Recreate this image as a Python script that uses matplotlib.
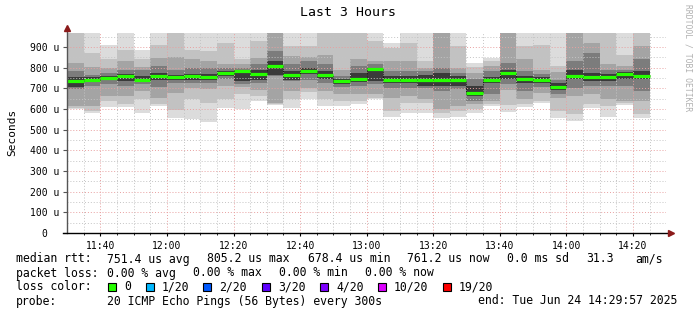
import matplotlib
matplotlib.use("Agg")
import matplotlib.pyplot as plt
import numpy as np

# time in minutes since midnight; graph covers 11:29:57 .. 14:29:57
t_start = 11 * 60 + 29 + 57 / 60.0
t_end = 14 * 60 + 29 + 57 / 60.0
step_min = 5
steps = np.arange(11 * 60 + 30, 14 * 60 + 25, step_min)  # 35 rrd steps

# median rtt per step (microseconds)
median_us = [734, 739, 748, 758, 742, 758, 752, 758, 753, 774, 781, 771, 805.2, 765, 784,
             762, 734, 747, 795, 739, 739, 739, 739, 739, 678.4, 742, 774, 745, 739, 706,
             761, 752, 752, 768, 761.2]

# smoke bands (outer -> inner), lower and upper edge per step, microseconds
band1_lo = [600, 581, 607, 610, 581, 613, 557, 549, 535, 606, 598, 638, 620, 604, 646,
            613, 614, 624, 646, 563, 582, 582, 556, 560, 582, 613, 585, 610, 628, 558,
            540, 604, 563, 618, 558]
band1_hi = [1000, 1000, 910, 1000, 887, 1000, 1000, 1000, 1000, 1000, 1000, 1000, 1000, 1000, 1000,
            1000, 1000, 1000, 1000, 919, 1000, 1000, 1000, 1000, 823, 847, 1000, 1000, 1000, 1000,
            1000, 1000, 1000, 1000, 1000]
band2_lo = [606, 590, 640, 625, 646, 622, 597, 646, 630, 646, 670, 662, 625, 646, 680,
            646, 640, 638, 655, 589, 630, 630, 580, 590, 600, 625, 620, 625, 638, 590,
            575, 622, 613, 628, 573]
band2_hi = [1000, 871, 840, 887, 839, 911, 1000, 887, 879, 919, 839, 927, 1000, 903, 903,
            1000, 1000, 1000, 930, 895, 919, 831, 1000, 903, 805, 830, 1000, 903, 911, 807,
            1000, 1000, 1000, 863, 1000]
band3_lo = [613, 613, 662, 662, 686, 655, 678, 702, 694, 710, 705, 690, 630, 686, 700,
            686, 670, 670, 670, 654, 660, 646, 600, 613, 622, 640, 690, 646, 678, 654,
            660, 670, 646, 640, 640]
band3_hi = [823, 802, 800, 831, 802, 845, 850, 839, 831, 815, 815, 847, 1000, 855, 850,
            863, 790, 839, 831, 831, 831, 800, 1000, 799, 775, 807, 1000, 839, 790, 780,
            1000, 919, 815, 807, 903]
band4_lo = [695, 712, 718, 712, 722, 705, 724, 726, 726, 745, 720, 726, 760, 734, 740,
            726, 705, 710, 720, 702, 700, 700, 686, 694, 640, 670, 718, 686, 705, 670,
            700, 710, 710, 710, 686]
band4_hi = [785, 766, 775, 790, 790, 807, 790, 799, 799, 800, 799, 815, 879, 815, 831,
            815, 760, 807, 815, 782, 782, 782, 799, 775, 745, 785, 823, 782, 770, 742,
            831, 871, 790, 790, 839]
band5_lo = [708, 728, 738, 735, 730, 740, 738, 742, 740, 760, 735, 740, 766, 740, 770,
            745, 720, 730, 734, 725, 725, 712, 710, 712, 660, 725, 745, 725, 725, 690,
            745, 735, 735, 745, 745]
band5_hi = [755, 752, 758, 770, 758, 775, 765, 770, 767, 785, 790, 790, 830, 782, 800,
            785, 745, 774, 800, 760, 760, 765, 775, 760, 710, 755, 790, 760, 755, 725,
            790, 775, 770, 780, 782]
band_colors = ["#dcdcdc", "#c2c2c2", "#a4a4a4", "#7c7c7c", "#3a3a3a"]

# legend content
loss_labels = ["0", "1/20", "2/20", "3/20", "4/20", "10/20", "19/20"]
loss_colors = ["#26ff00", "#00b8ff", "#0059ff", "#5e00ff", "#7e00ff", "#dd00ff", "#ff0000"]

W, H = 697, 315
fig = plt.figure(figsize=(W / 100, H / 100), dpi=100)
fig.patch.set_facecolor("white")
mono = "DejaVu Sans Mono"

ax = fig.add_axes([67 / W, (H - 233) / H, 599 / W, 200 / H])
ax.set_xlim(t_start, t_end)
ax.set_ylim(0, 967)
for s in ax.spines.values():
    s.set_visible(False)

bands = [(band1_lo, band1_hi), (band2_lo, band2_hi), (band3_lo, band3_hi),
         (band4_lo, band4_hi), (band5_lo, band5_hi)]
for i, (lo, hi) in enumerate(bands):
    lo = np.array(lo, dtype=float)
    hi = np.array(hi, dtype=float)
    ax.bar(steps, hi - lo, bottom=lo, width=step_min, align="edge",
           color=band_colors[i], linewidth=0, zorder=1 + i * 0.1)

# grid on top of the smoke
for v in range(50, 967, 50):
    major = v % 100 == 0
    ax.axhline(v, color="#e8a0a0" if major else "#c4c4c4", lw=0.7,
               ls=(0, (1, 2)), zorder=3)
for m in range(11 * 60 + 35, 14 * 60 + 30, 5):
    major = m % 20 == 0
    ax.axvline(m, color="#e8a0a0" if major else "#c4c4c4", lw=0.7,
               ls=(0, (1, 2)), zorder=3)

# median line (step), black joins + green segments
med = np.array(median_us)
ax.step(np.append(steps, steps[-1] + step_min), np.append(med, med[-1]), where="post",
        color="black", lw=0.6, ls=(0, (1, 1)), zorder=4)
ax.hlines(med, steps, steps + step_min, colors=loss_colors[0], lw=2.3, zorder=5)

# axes lines and arrows
ax.plot([t_start, t_start], [0, 985], color="#555555", lw=1.0, clip_on=False, zorder=6)
ax.plot([t_start - 1.2, t_end + 1.2], [0, 0], color="black", lw=1.0, clip_on=False, zorder=6)
ax.plot([t_start], [990], marker="^", color="#8b1a1a", ms=4, clip_on=False, zorder=7)
ax.plot([t_end + 1.5], [0], marker=">", color="#8b1a1a", ms=4, clip_on=False, zorder=7)

ax.set_yticks(range(0, 901, 100))
ax.set_yticklabels(["0  "] + ["%d u" % v for v in range(100, 901, 100)],
                   family=mono, fontsize=7)
ax.set_xticks(range(11 * 60 + 40, 14 * 60 + 30, 20))
ax.set_xticklabels(["%02d:%02d" % divmod(m, 60) for m in range(11 * 60 + 40, 14 * 60 + 30, 20)],
                   family=mono, fontsize=7)
ax.set_xticks(range(11 * 60 + 35, 14 * 60 + 30, 5), minor=True)
ax.tick_params(axis="y", length=3, width=0.8, color="#555555", pad=2.5)
ax.tick_params(axis="x", which="major", length=2.5, width=0.8, color="black", pad=3)
ax.tick_params(axis="x", which="minor", length=1.5, width=0.6, color="black")

fig.text(12 / W, 1 - 132 / H, "Seconds", rotation=90, ha="center", va="center",
         family=mono, fontsize=8)
fig.text(348 / W, 1 - 13 / H, "Last 3 Hours", ha="center", va="center",
         family=mono, fontsize=9.5)
fig.text(688 / W, 1 - 58 / H, "RRDTOOL / TOBI OETIKER", rotation=-90, ha="center",
         va="center", family=mono, fontsize=5.8, color="#b0b0b0")

fs = 8.3
def row(y, items):
    for x, s in items:
        fig.text(x / W, 1 - y / H, s, ha="left", va="center", family=mono, fontsize=fs)

row(259, [(16, "median rtt:"), (107, "751.4 us avg"), (207, "805.2 us max"),
          (308, "678.4 us min"), (407, "761.2 us now"), (507, "0.0 ms sd"),
          (586, "31.3"), (635, "am/s")])
row(273, [(16, "packet loss:"), (107, "0.00 % avg"), (193, "0.00 % max"),
          (279, "0.00 % min"), (365, "0.00 % now")])
row(287, [(16, "loss color:")])
swatch_x = [108, 146, 203, 262, 320, 378, 443]
for x, lab, c in zip(swatch_x, loss_labels, loss_colors):
    fig.patches.append(plt.Rectangle((x / W, 1 - 291 / H), 8 / W, 8 / H, transform=fig.transFigure,
                                     facecolor=c, edgecolor="black", lw=0.8, figure=fig))
    fig.text((x + 16) / W, 1 - 287 / H, lab, ha="left", va="center", family=mono, fontsize=fs)
row(301, [(16, "probe:"), (107, "20 ICMP Echo Pings (56 Bytes) every 300s"),
          (478, "end: Tue Jun 24 14:29:57 2025")])

fig.savefig("out.png", dpi=100, facecolor="white")
